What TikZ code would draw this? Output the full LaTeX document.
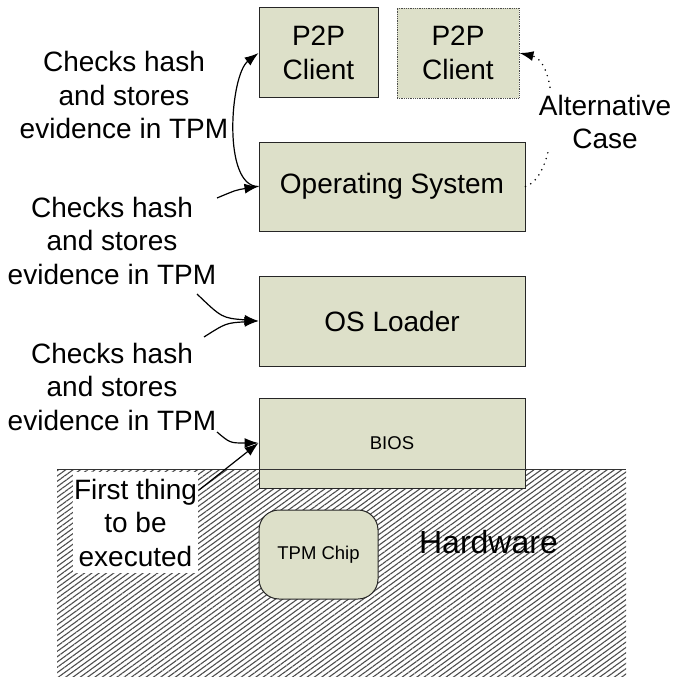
\documentclass[tikz,border=0pt]{standalone}
\usepackage{fontspec}
\setmainfont{Liberation Sans}
\usetikzlibrary{arrows.meta,patterns.meta}
\definecolor{boxgreen}{RGB}{221,224,201}
\newcommand\fsbig{\fontsize{28}{33.5}\selectfont}
\newcommand\fssmall{\fontsize{18.5}{22}\selectfont}
\newcommand\fshuge{\fontsize{32}{38}\selectfont}
\tikzset{
  layerbox/.style={draw=black!85, line width=1pt, fill=boxgreen, inner sep=0pt,
    align=center, font=\fsbig},
  lbl/.style={align=center, font=\fsbig, inner sep=0pt},
  link/.style={line width=1.2pt, -{Latex[length=14pt,width=10pt]}},
}
\begin{document}
\begin{tikzpicture}[x=1pt,y=-1pt]
\useasboundingbox (0,0) rectangle (678,677);

% hardware area
\fill[pattern={Lines[angle=36,distance=4.3pt,line width=1.1pt]}, pattern color=black!70]
  (57,469) rectangle (626,677);

% software layers
\node[layerbox, minimum width=119pt, minimum height=90pt] (p2pa) at (318.5,53) {P2P\\Client};
\node[layerbox, draw=black!70, line width=0.9pt, dash pattern=on 1pt off 0.8pt,
      minimum width=122pt, minimum height=90pt] (p2pb) at (458,53) {P2P\\Client};
\node[layerbox, minimum width=266pt, minimum height=89pt] (os) at (392,186.5) {Operating System};
\node[layerbox, minimum width=266pt, minimum height=90pt] (osl) at (392,321) {OS Loader};
\node[layerbox, minimum width=266pt, minimum height=90pt, font=\fssmall] (bios) at (392,443) {BIOS};
\draw[black!80, line width=1pt] (57,469) -- (626,469);

% hardware contents
\node[layerbox, rounded corners=20pt, font=\fssmall, minimum width=119pt, minimum height=89pt]
  (tpm) at (318.5,554.5) {TPM Chip};
\node[font=\fshuge, inner sep=0pt, anchor=base] (hw) at (488.5,553) {Hardware};
\node[lbl, fill=white, minimum width=125pt, minimum height=101pt] (first) at (135.5,522.5)
  {First thing\\to be\\executed};

% measurement labels
\node[lbl] (chk1) at (124,95) {Checks hash\\and stores\\evidence in TPM};
\node[lbl] (chk2) at (112,240.5) {Checks hash\\and stores\\evidence in TPM};
\node[lbl] (chk3) at (112,386.5) {Checks hash\\and stores\\evidence in TPM};

\coordinate (c2) at (217,198);
\coordinate (c3a) at (197,294);
\coordinate (c3b) at (204,337);
\coordinate (c4) at (217,432);
\coordinate (f1) at (199,490);

% connectors
\draw[link] (os.west) .. controls (222,187) and (230,75) .. (p2pa.west);
\draw[link] (c2) .. controls (236,190) .. (os.west);
\draw[link] (c3a) .. controls (222,318) .. (osl.west);
\draw[link] (c3b) .. controls (226,323) .. (osl.west);
\draw[link] (c4) .. controls (230,443) .. (bios.west);
\draw[link] (f1) -- (bios.west);

% alternative path
\draw[line width=1.7pt, line cap=round, dash pattern=on 0pt off 6pt,
      -{Latex[length=14pt,width=10pt]}]
  (os.east) .. controls (560,175) and (560,62) .. (p2pb.east);
\node[lbl, fill=white, inner sep=3pt] (alt) at (605,122) {Alternative\\Case};
\end{tikzpicture}
\end{document}
